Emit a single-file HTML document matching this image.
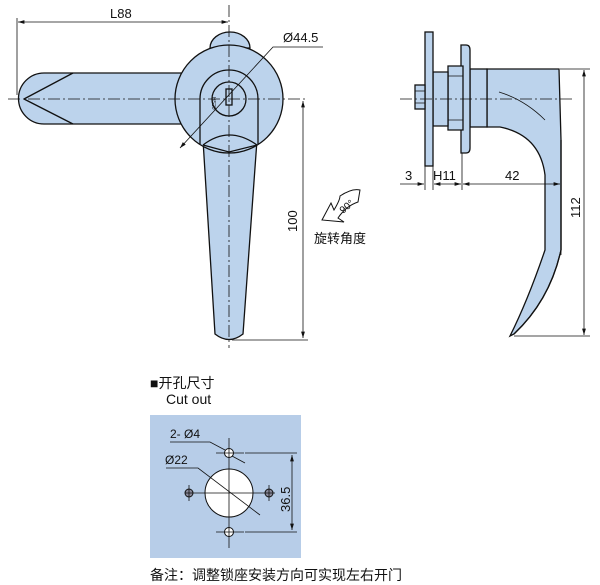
<!DOCTYPE html>
<html><head><meta charset="utf-8"><style>
html,body{margin:0;padding:0;background:#fff;}
svg{display:block;}
text{font-family:"Liberation Sans","Noto Sans CJK SC",sans-serif;fill:#111;}
</style></head><body>
<svg width="600" height="585" viewBox="0 0 600 585" xmlns="http://www.w3.org/2000/svg">
<defs>
<marker id="a" viewBox="0 0 10 6" refX="10" refY="3" markerWidth="8" markerHeight="5" orient="auto-start-reverse"><path d="M0,0 L10,3 L0,6 z" fill="#111"/></marker>
</defs>
<g stroke="#111" stroke-width="1.3" fill="#bcd3ec">
<path d="M44,73 L185,73 L185,124 L44,124 A25.5,25.5 0 0 1 44,73 z"/>
<path d="M203,140 L257,140 L243,334 Q229,345 215,334 z"/>
<path d="M210,48 A20,16 0 0 1 250,48 z"/>
<circle cx="229" cy="99" r="54"/>
<path d="M200,144 L200,99 A29,29 0 0 1 258,99 L258,144"/>
<path d="M203,145 Q229,125 257,145" fill="none"/>
<path d="M203,145 L229,152 L257,145" fill="none"/>
<circle cx="229" cy="99" r="17"/>
<rect x="226" y="89" width="6" height="16"/>
</g>
<g stroke="#111" stroke-width="1.3" fill="none">
<path d="M24,99 L73,73 M24,99 L73,124"/>
</g>
<text x="213" y="104" font-size="5" transform="rotate(90 216 100)">HS20</text>
<g stroke="#111" stroke-width="0.8" stroke-dasharray="12,3,2,3" fill="none">
<path d="M8,99 L305,99"/>
<path d="M229,5 L229,348"/>
</g>
<g stroke="#111" stroke-width="0.8" fill="none">
<path d="M17,18 L17,95"/>
<path d="M18,22 L228,22" marker-start="url(#a)" marker-end="url(#a)"/>
<path d="M180,148 L273,47 L323,47" marker-start="url(#a)"/>
<path d="M232,340 L308,340"/>
<path d="M303,101 L303,338" marker-start="url(#a)" marker-end="url(#a)"/>
</g>
<text x="110" y="18" font-size="13">L88</text>
<text x="283" y="42" font-size="13">Ø44.5</text>
<text x="0" y="0" font-size="13" transform="translate(297,232) rotate(-90)">100</text>
<path d="M340,196 Q352,188 360,190 L358,202 Q346,206 338,218 L344,222 L322,220 L331,203 L334,210 Q340,200 340,196 z" fill="#fff" stroke="#111" stroke-width="1"/>
<text x="0" y="0" font-size="10" transform="translate(343,214) rotate(-40)">90°</text>
<text x="314" y="243" font-size="13">旋转角度</text>

<g stroke="#111" stroke-width="1.3" fill="#bcd3ec">
<path d="M487,69 L559,69 L561,140 L561,250 Q550,300 514,334 L510,336 Q528,300 545,250 L545,175 Q540,135 500,127 L487,127 z"/>
<path d="M561,140 L561,250 Q550,300 514,334" fill="none"/>
<rect x="470" y="69" width="17" height="58"/>
<path d="M461,45 L466,45 Q470,45 470,50 L470,148 Q470,153 466,153 L461,153 z"/>
<path d="M448,66 L463,66 L463,130 L448,130 z"/>
<path d="M433,72 L448,72 L448,126 L433,126 z"/>
<rect x="425" y="32" width="8" height="134"/>
<rect x="415" y="85" width="10" height="24"/>
</g>
<g stroke="#111" stroke-width="0.8" fill="none">
<path d="M448,76 L463,76 M448,120 L463,120 M415,91 L425,91 M415,103 L425,103"/>
<path d="M499,92 Q525,100 545,120"/>
<path d="M400,99 L572,99" stroke-dasharray="12,3,2,3"/>
<path d="M425,166 L425,190 M433,166 L433,190 M462,153 L462,190 M561,255 L561,190"/>
<path d="M400,184 L424,184" marker-end="url(#a)"/>
<path d="M434,184 L461,184" marker-start="url(#a)" marker-end="url(#a)"/>
<path d="M463,184 L560,184" marker-start="url(#a)" marker-end="url(#a)"/>
<path d="M560,69 L590,69 M514,336 L590,336"/>
<path d="M584,70 L584,335" marker-start="url(#a)" marker-end="url(#a)"/>
</g>
<text x="405" y="180" font-size="13">3</text>
<text x="433" y="180" font-size="13">H11</text>
<text x="505" y="180" font-size="13">42</text>
<text x="0" y="0" font-size="13" transform="translate(580,218) rotate(-90)">112</text>

<text x="150" y="388" font-size="14">■开孔尺寸</text>
<text x="166" y="404" font-size="14">Cut out</text>
<rect x="150" y="415" width="151" height="143" fill="#b7cde8"/>
<g stroke="#111" stroke-width="1" fill="#fff">
<circle cx="229" cy="493" r="24"/>
<circle cx="229" cy="453" r="4.5"/>
<circle cx="229" cy="532" r="4.5"/>
<circle cx="189" cy="493" r="4" fill="#889"/>
<circle cx="269" cy="493" r="4" fill="#889"/>
</g>
<g stroke="#111" stroke-width="0.8" fill="none">
<path d="M229,438 L229,548 M216,453 L244,453 M216,532 L244,532 M185,493 L275,493 M189,485 L189,501 M269,485 L269,501"/>
<path d="M245,453 L297,453 M245,532 L297,532"/>
<path d="M292,455 L292,530" marker-start="url(#a)" marker-end="url(#a)"/>
<path d="M170,442 L210,442 L225,450 M232,456 L245,463"/>
<path d="M166,468 L198,468 L260,515"/>
</g>
<text x="170" y="438" font-size="12">2- Ø4</text>
<text x="165" y="464" font-size="12">Ø22</text>
<text x="0" y="0" font-size="13" transform="translate(290,512) rotate(-90)">36.5</text>
<text x="150" y="580" font-size="14">备注：调整锁座安装方向可实现左右开门</text>
</svg>
</body></html>
